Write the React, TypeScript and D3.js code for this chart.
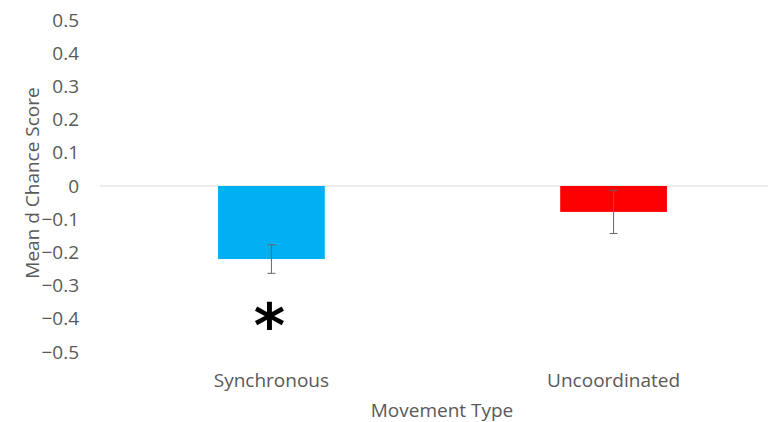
import React from "react";
import * as d3 from "d3";

const categories = ["Synchronous", "Uncoordinated"];
const means = [-0.22, -0.078];
const errors = [0.043, 0.065];
const barColors = ["#00B0F0", "#FF0000"];
const yTicks = [0.5, 0.4, 0.3, 0.2, 0.1, 0, -0.1, -0.2, -0.3, -0.4, -0.5];
const significant = [true, false];

const W = 768;
const H = 422;
const FONT = "'Open Sans', sans-serif";
const TEXT = "#595959";

export default function App() {
  const y = d3.scaleLinear().domain([-0.5, 0.5]).range([352, 20]);
  const x = d3.scaleBand<string>().domain(categories).range([100, 785]).paddingInner(0.688).paddingOuter(0.345);
  const fmt = (v: number) => (v === 0 ? "0" : d3.format(".1f")(v));
  return (
    <svg width={W} height={H} style={{ position: "absolute", left: 0, top: 0, background: "#fff" }}>
      <line x1={100} x2={W} y1={y(0)} y2={y(0)} stroke="#D9D9D9" strokeWidth={1} />
      {yTicks.map((t) => (
        <text key={t} x={79} y={y(t)} dy="0.35em" textAnchor="end" fontSize={19} fill={TEXT} fontFamily={FONT}>
          {fmt(t)}
        </text>
      ))}
      {categories.map((c, i) => {
        const bx = x(c)!;
        const bw = x.bandwidth();
        const cx = bx + bw / 2;
        return (
          <g key={c}>
            <rect x={bx} y={y(0)} width={bw} height={y(means[i]) - y(0)} fill={barColors[i]} />
            <line x1={cx} x2={cx} y1={y(means[i] + errors[i])} y2={y(means[i] - errors[i])} stroke="#666" strokeWidth={1} />
            <line x1={cx - 4} x2={cx + 4} y1={y(means[i] + errors[i])} y2={y(means[i] + errors[i])} stroke="#666" strokeWidth={1} />
            <line x1={cx - 4} x2={cx + 4} y1={y(means[i] - errors[i])} y2={y(means[i] - errors[i])} stroke="#666" strokeWidth={1} />
            <text x={cx} y={380} dy="0.35em" textAnchor="middle" fontSize={19} fill={TEXT} fontFamily={FONT}>
              {c}
            </text>
            {significant[i] && (
              <text x={cx - 2} y={347} textAnchor="middle" fontSize={60} fontWeight="bold" fill="#000" fontFamily="'DejaVu Sans', sans-serif">
                *
              </text>
            )}
          </g>
        );
      })}
      <text x={442} y={410} dy="0.35em" textAnchor="middle" fontSize={19} fill={TEXT} fontFamily={FONT}>
        Movement Type
      </text>
      <text transform={`translate(32,183) rotate(-90)`} dy="0.35em" textAnchor="middle" fontSize={19} fill={TEXT} fontFamily={FONT}>
        Mean d Chance Score
      </text>
    </svg>
  );
}
